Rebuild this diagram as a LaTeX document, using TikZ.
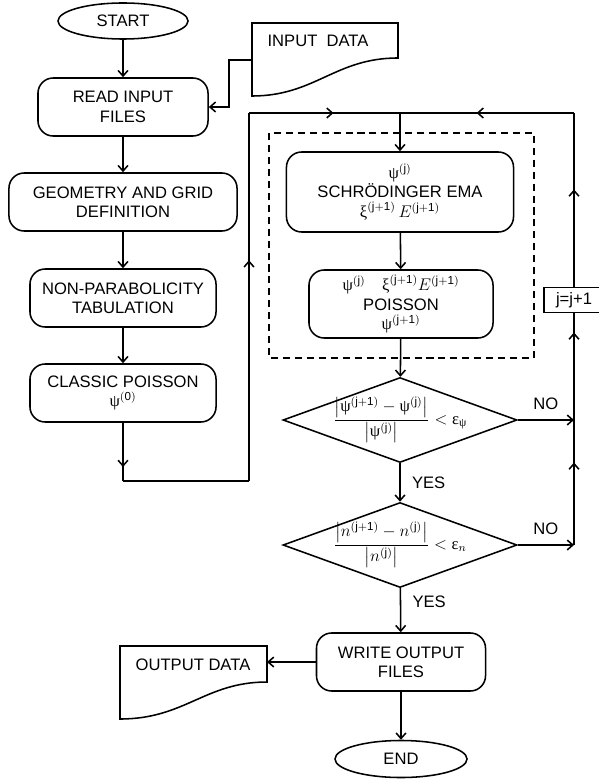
\documentclass[tikz,border=0pt]{standalone}
\usepackage{amsmath}
\usepackage{fontspec}
\setmainfont{Liberation Sans}
\newfontfamily\grk{Liberation Serif}
\usetikzlibrary{shapes.geometric,arrows.meta,decorations.markings}
\newcommand{\gpsi}{\text{\grk ψ}}
\newcommand{\gxi}{\text{\grk ξ}}
\newcommand{\geps}{\text{\grk ε}}
\newcommand{\itj}{^{\mathrm{(j)}}}
\newcommand{\itjj}{^{\mathrm{(j+1)}}}
\tikzset{
  proc/.style={draw, rounded corners=0.38cm, align=center, inner sep=1pt},
  term/.style={draw, ellipse, inner sep=0pt},
  dec/.style={draw, diamond, inner sep=0pt, minimum width=5.85cm, minimum height=2.125cm},
  lbl/.style={inner sep=0pt},
  marr/.style={postaction={decorate},
    decoration={markings, mark=at position #1 with {\arrow{>}}}},
}
\begin{document}
\begin{tikzpicture}[x=0.025cm, y=-0.025cm, >={Straight Barb[length=4pt,width=7pt]},
    line width=1.1pt, font=\fontsize{11.8}{13.8}\selectfont]
    \useasboundingbox (0,0) rectangle (598,780);

    % Left column
    \node[term, minimum width=3.25cm, minimum height=0.9cm] (start) at (123,21) {START};
    \node[proc, minimum width=4.25cm, minimum height=1.45cm] (read) at (123,107) {READ INPUT\\FILES};
    \node[proc, minimum width=5.7cm, minimum height=1.45cm] (geom) at (123,202) {GEOMETRY AND GRID\\DEFINITION};
    \node[proc, minimum width=4.65cm, minimum height=1.45cm] (nonpar) at (123,298) {NON-PARABOLICITY\\TABULATION};
    \node[proc, minimum width=4.65cm, minimum height=1.45cm] (cpois) at (123,393) {CLASSIC POISSON\\$\gpsi^{\mathrm{(0)}}$};

    % Input data
    \draw (252,23) -- (398,23) -- (398,58) .. controls (335,58) and (315,96) .. (252,96) -- cycle;
    \node (indata) at (318,41) {INPUT\ \ DATA};
    \coordinate (inport) at (252,60);

    % Self-consistent loop
    \draw[dashed, dash pattern=on 5pt off 3.5pt] (269,133) rectangle (534,358);
    \node[proc, minimum width=5.675cm, minimum height=2cm] (schr) at (400,192)
        {$\gpsi\itj$\\SCHRÖDINGER EMA\\$\gxi\itjj\,E\itjj$};
    \node[proc, minimum width=4.6cm, minimum height=1.7cm] (pois) at (401,304)
        {$\gpsi\itj\quad\gxi\itjj E\itjj$\\POISSON\\$\gpsi\itjj$};
    \node[dec] (d1) at (400,420) {};
    \node at (d1.center) {$\dfrac{\bigl|\gpsi\itjj-\gpsi\itj\bigr|}{\bigl|\gpsi\itj\bigr|}<\geps_{\gpsi}$};
    \node[dec] (d2) at (400,545) {};
    \node at (d2.center) {$\dfrac{\bigl|n\itjj-n\itj\bigr|}{\bigl|n\itj\bigr|}<\geps_{n}$};
    \node[draw, fill=white, minimum width=1.5cm, minimum height=0.625cm, inner sep=1pt] (jbox) at (574,300) {j=j+1};

    % Output
    \node[proc, minimum width=4.225cm, minimum height=1.45cm] (write) at (401,662) {WRITE OUTPUT\\FILES};
    \node[term, minimum width=3.3cm, minimum height=0.925cm] (endn) at (401,759) {END};
    \draw (120,646) -- (267,646) -- (267,682) .. controls (205,682) and (185,719) .. (120,719) -- cycle;
    \node (outdata) at (193,665) {OUTPUT DATA};
    \coordinate (outport) at (267,662);

    % Loop corners
    \coordinate (c1) at (123,481);
    \coordinate (c2) at (249,481);
    \coordinate (c3) at (249,113);
    \coordinate (top) at (400,113);
    \coordinate (rt) at (574,113);
    \coordinate (r1) at (574,420);
    \coordinate (r2) at (574,545);

    % Connectors
    \draw[->] (start) -- (read);
    \draw[->] (inport) -- ++(-23,0) |- (read.east);
    \draw[->] (read) -- (geom);
    \draw[->] (geom) -- (nonpar);
    \draw[->] (nonpar) -- (cpois);
    \draw[marr=0.76] (cpois.south) -- (c1);
    \draw (c1) -- (c2);
    \draw[marr=0.6] (c2) -- (c3);
    \draw[marr=0.56] (c3) -- (top);
    \draw[->] (top) -- (schr.north);
    \draw[->] (schr) -- (pois);
    \draw[->] (pois) -- (d1);
    \draw[->] (d1) -- node[lbl, right=8pt] {YES} (d2);
    \draw[->] (d1.east) -- node[lbl, above=7pt] {NO} (r1);
    \draw[->] (d2.east) -- node[lbl, above=7pt] {NO} (r2);
    \draw[marr=0.66] (r2) -- (r1);
    \draw[marr=0.82] (r1) -- (jbox.south);
    \draw[marr=0.56] (jbox.north) -- (rt);
    \draw[marr=0.56] (rt) -- (top);
    \draw[->] (d2) -- node[lbl, pos=0.3, right=8pt] {YES} (write);
    \draw[->] (write.west) -- (outport);
    \draw[->] (write) -- (endn);
\end{tikzpicture}
\end{document}
